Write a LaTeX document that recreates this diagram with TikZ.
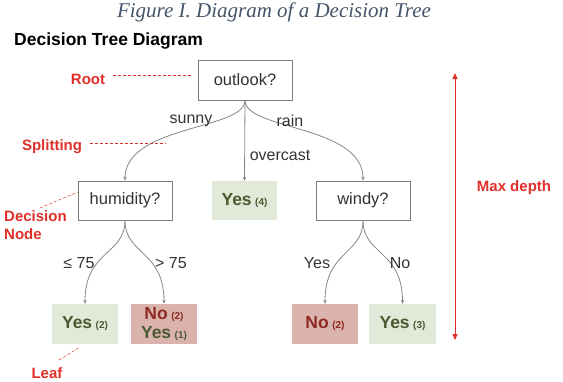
\documentclass[tikz,border=0pt]{standalone}
\usepackage{fontspec}
\setmainfont{Liberation Sans}
\newfontfamily\titlefont{Liberation Serif}
\usetikzlibrary{arrows.meta}
\definecolor{titleblue}{HTML}{44546A}
\definecolor{annred}{HTML}{E0302A}
\definecolor{edgegray}{HTML}{858585}
\definecolor{boxgray}{HTML}{7A7A7A}
\definecolor{txtgray}{HTML}{333333}
\definecolor{leafgreen}{HTML}{E1E9D9}
\definecolor{leafred}{HTML}{D9B3AC}
\definecolor{greentxt}{HTML}{4B5A30}
\definecolor{redtxt}{HTML}{8E2A22}
\tikzset{
  x=1pt, y=-1pt,
  qbox/.style={draw=boxgray, line width=0.8pt, fill=white, minimum width=94pt, minimum height=39pt, inner sep=0pt, font=\fontsize{16.5}{19}\selectfont, text=txtgray},
  gleaf/.style={fill=leafgreen, minimum width=66pt, minimum height=40pt, inner sep=0pt, font=\bfseries\fontsize{17.5}{19}\selectfont, text=greentxt},
  rleaf/.style={fill=leafred, minimum width=66pt, minimum height=40pt, inner sep=0pt, font=\bfseries\fontsize{17.5}{19}\selectfont, text=redtxt},
  edge/.style={draw=edgegray, line width=0.8pt, -{Stealth[length=4pt,width=3.5pt]}},
  elabel/.style={font=\fontsize{16}{18}\selectfont, text=txtgray, inner sep=0pt},
  ann/.style={font=\bfseries\fontsize{15}{18}\selectfont, text=annred, inner sep=0pt, align=left},
  annline/.style={draw=annred, line width=0.5pt, dash pattern=on 3pt off 2pt},
}
\newcommand{\cnt}[1]{{\fontsize{10}{12}\selectfont\hspace{3.5pt}(#1)}}
\begin{document}
\begin{tikzpicture}
\useasboundingbox (0,0) rectangle (563,381);

% titles
\node[font=\titlefont\itshape\fontsize{21}{24}\selectfont, text=titleblue, inner sep=0pt] (title) at (274,12) {Figure I. Diagram of a Decision Tree};
\node[font=\bfseries\fontsize{17.5}{20}\selectfont, anchor=west, inner sep=0pt] (sub) at (14,41) {Decision Tree Diagram};

% nodes
\node[qbox, minimum height=40pt] (root) at (245,80) {outlook?};
\node[qbox] (hum) at (125,200.5) {humidity?};
\node[gleaf, minimum width=65pt, minimum height=39pt] (yes4) at (244.5,200.5) {Yes\cnt{4}};
\node[qbox] (windy) at (363,200.5) {windy?};
\node[gleaf] (yes2) at (85,324) {Yes\cnt{2}};
\node[rleaf, align=center, font=\bfseries\fontsize{17.5}{19.5}\selectfont] (noyes) at (164,324) {No\cnt{2}\\\textcolor{greentxt}{Yes\cnt{1}}};
\node[rleaf] (no2) at (325,324) {No\cnt{2}};
\node[gleaf, minimum width=67pt] (yes3) at (402.5,324) {Yes\cnt{3}};

% edges
\draw[edge] (root.south) .. controls (245,130) and (125,125) .. (hum.north);
\draw[edge] (root.south) -- (yes4.north);
\draw[edge] (root.south) .. controls (245,130) and (363,125) .. (windy.north);
\draw[edge] (hum.south) .. controls (125,255) and (85,250) .. (yes2.north);
\draw[edge] (hum.south) .. controls (125,255) and (164,250) .. (noyes.north);
\draw[edge] (windy.south) .. controls (363,255) and (325,250) .. (no2.north);
\draw[edge] (windy.south) .. controls (363,255) and (402.5,250) .. (yes3.north);

% edge labels
\node[elabel] (lsunny) at (191,121) {sunny};
\node[elabel] (lrain) at (290,121) {rain};
\node[elabel] (lover) at (280,155) {overcast};
\node[elabel] (lle) at (79,263) {≤ 75};
\node[elabel] (lgt) at (171,263) {> 75};
\node[elabel] (lyes) at (317,263) {Yes};
\node[elabel] (lno) at (400,263) {No};

% annotations
\node[ann] (aroot) at (88,79) {Root};
\node[ann] (asplit) at (52,147) {Splitting};
\node[ann, anchor=west] (adec) at (4,225) {Decision\\Node};
\node[ann] (aleaf) at (47,373) {Leaf};
\node[ann] (amax) at (514,188) {Max depth};

\coordinate (r1) at (113,75); \coordinate (r2) at (191,75);
\coordinate (s1) at (90,143); \coordinate (s2) at (166,143);
\coordinate (d1) at (40,208); \coordinate (d2) at (78,192);
\coordinate (l1) at (59,360); \coordinate (l2) at (80,347);
\draw[annline] (r1) -- (r2);
\draw[annline] (s1) -- (s2);
\draw[annline] (d1) -- (d2);
\draw[annline] (l1) -- (l2);

\coordinate (m1) at (455,73); \coordinate (m2) at (455,340);
\draw[draw=annred, line width=0.8pt, {Triangle[length=6pt,width=5pt]}-{Triangle[length=6pt,width=5pt]}] (m1) -- (m2);
\end{tikzpicture}
\end{document}
